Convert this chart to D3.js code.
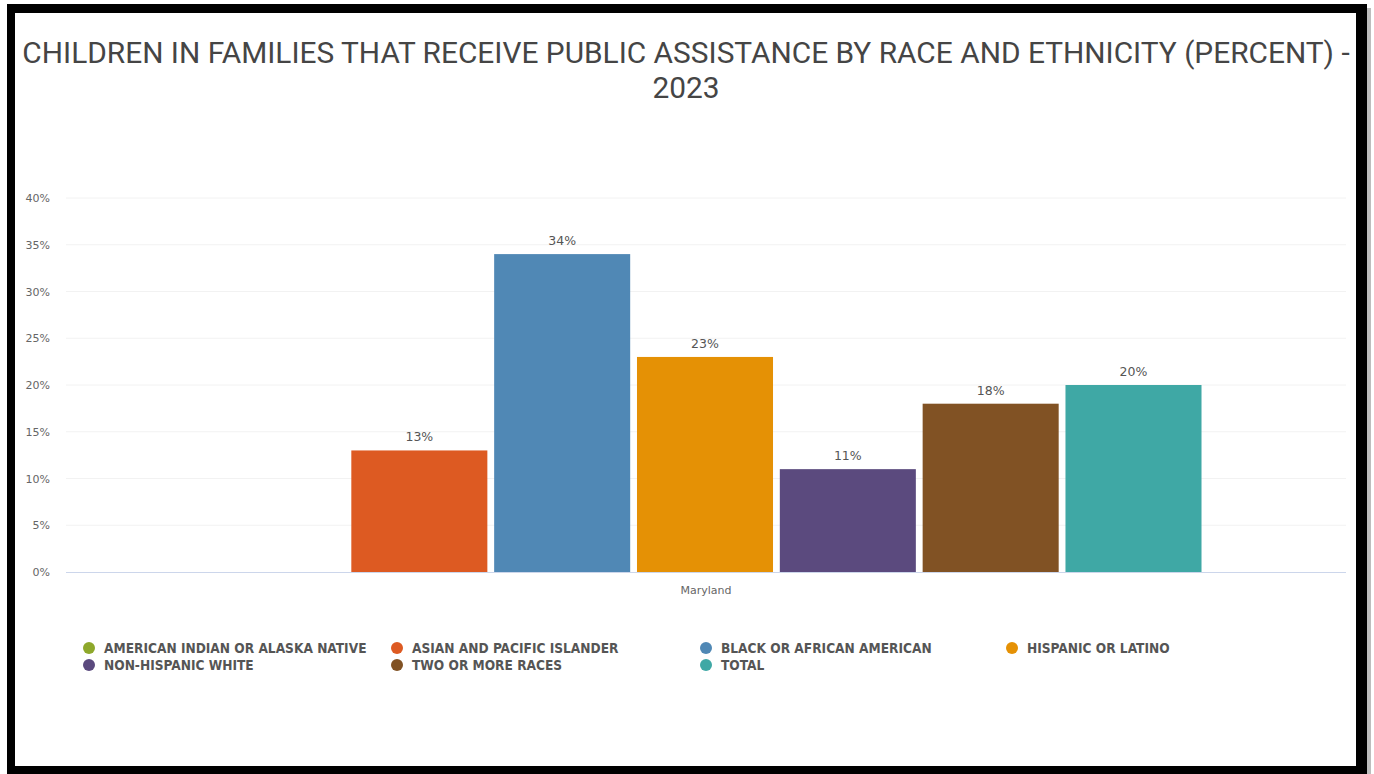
<!DOCTYPE html>
<html>
<head>
<meta charset="utf-8">
<script src="https://cdn.jsdelivr.net/npm/d3@7/dist/d3.min.js"></script>
<style>
  html, body { margin: 0; padding: 0; background: #ffffff; }
  svg { display: block; }
</style>
</head>
<body>
<svg id="chart" width="1374" height="774"></svg>
<script>
// Children in families that receive public assistance, Maryland, 2023
const titleLines = [
  "CHILDREN IN FAMILIES THAT RECEIVE PUBLIC ASSISTANCE BY RACE AND ETHNICITY (PERCENT) -",
  "2023"
];
const locations = ["Maryland"];
const groups = [
  "AMERICAN INDIAN OR ALASKA NATIVE",
  "ASIAN AND PACIFIC ISLANDER",
  "BLACK OR AFRICAN AMERICAN",
  "HISPANIC OR LATINO",
  "NON-HISPANIC WHITE",
  "TWO OR MORE RACES",
  "TOTAL"
];
const values = [null, 13, 34, 23, 11, 18, 20];
const colors = ["#8ea82b", "#dd5a22", "#5088b5", "#e59105", "#5b4a7e", "#815224", "#3fa8a5"];
const yTicks = [0, 5, 10, 15, 20, 25, 30, 35, 40];

const svg = d3.select("#chart");

// Frame with a soft shadow on the right
svg.append("rect").attr("x", 1367).attr("y", 8).attr("width", 4).attr("height", 766).attr("fill", "#bdbdbd");
svg.append("rect").attr("x", 7).attr("y", 4).attr("width", 1360).attr("height", 770).attr("fill", "#000");
svg.append("rect").attr("x", 15).attr("y", 13).attr("width", 1341).attr("height", 753).attr("fill", "#fff");

// Title
const title = svg.append("text")
  .attr("text-anchor", "middle")
  .attr("font-family", "Roboto, 'Open Sans', sans-serif")
  .attr("fill", "#454545")
  .attr("font-size", 27);
title.selectAll("tspan").data(titleLines).join("tspan")
  .attr("x", 686)
  .attr("y", (d, i) => 63 + i * 35)
  .text(d => d);
// fit the first line to its width
const firstLine = title.select("tspan").node();
const measured = firstLine.getComputedTextLength();
if (measured > 0) title.attr("font-size", 27 * 1328 / measured);

// Plot area
const plot = { left: 66, right: 1346, top: 198, bottom: 572 };

const y = d3.scaleLinear().domain([0, 40]).range([plot.bottom, plot.top]);
const x0 = d3.scaleBand().domain(locations).range([plot.left, plot.right]).paddingOuter(0.1445).paddingInner(0);
const x1 = d3.scaleBand().domain(groups).range([-1, x0.bandwidth() - 1]).paddingInner(0.0476).paddingOuter(0);

// Gridlines
svg.append("g")
  .selectAll("line")
  .data(yTicks.filter(t => t > 0))
  .join("line")
  .attr("x1", plot.left).attr("x2", plot.right)
  .attr("y1", d => y(d)).attr("y2", d => y(d))
  .attr("stroke", "#f2f2f2").attr("stroke-width", 1);

// Y axis labels
const yAxis = svg.append("g")
  .attr("transform", `translate(${plot.left - 16},0)`)
  .call(d3.axisLeft(y).tickValues(yTicks).tickFormat(d => d + "%").tickSize(0).tickPadding(0));
yAxis.select(".domain").remove();
yAxis.selectAll("text")
  .attr("font-family", "'DejaVu Sans', Verdana, sans-serif")
  .attr("font-size", 11)
  .attr("fill", "#666");

// Bars
const barData = groups.map((g, i) => ({ loc: locations[0], group: g, value: values[i], color: colors[i] }))
  .filter(d => d.value !== null);

svg.append("g")
  .selectAll("rect")
  .data(barData)
  .join("rect")
  .attr("x", d => x0(d.loc) + x1(d.group))
  .attr("width", x1.bandwidth())
  .attr("y", d => y(d.value))
  .attr("height", d => y(0) - y(d.value))
  .attr("fill", d => d.color);

// Value labels
svg.append("g")
  .selectAll("text")
  .data(barData)
  .join("text")
  .attr("x", d => x0(d.loc) + x1(d.group) + x1.bandwidth() / 2)
  .attr("y", d => y(d.value) - 9)
  .attr("text-anchor", "middle")
  .attr("font-family", "'DejaVu Sans', Verdana, sans-serif")
  .attr("font-size", 12.5)
  .attr("fill", "#555")
  .text(d => d.value + "%");

// X axis
svg.append("line")
  .attr("x1", plot.left).attr("x2", plot.right)
  .attr("y1", plot.bottom + 0.5).attr("y2", plot.bottom + 0.5)
  .attr("stroke", "#ccd6eb").attr("stroke-width", 1);
const xAxis = svg.append("g")
  .attr("transform", `translate(0,${plot.bottom})`)
  .call(d3.axisBottom(x0).tickSize(0).tickPadding(14));
xAxis.select(".domain").remove();
xAxis.selectAll("text")
  .attr("font-family", "'DejaVu Sans', Verdana, sans-serif")
  .attr("font-size", 11)
  .attr("fill", "#666");

// Legend
const legendCols = [89, 397, 706, 1012];
const legendRows = [648, 665];
const legend = svg.append("g")
  .selectAll("g")
  .data(groups.map((g, i) => ({ label: g, color: colors[i], i })))
  .join("g")
  .attr("transform", d => `translate(${legendCols[d.i % 4]},${legendRows[Math.floor(d.i / 4)]})`);
legend.append("circle").attr("r", 6).attr("fill", d => d.color);
legend.append("text")
  .attr("x", 15)
  .attr("y", 4.5)
  .attr("font-family", "'DejaVu Sans Condensed', 'DejaVu Sans', sans-serif")
  .attr("font-weight", "bold")
  .attr("font-size", 13.6)
  .attr("fill", "#555")
  .text(d => d.label);
</script>
</body>
</html>
